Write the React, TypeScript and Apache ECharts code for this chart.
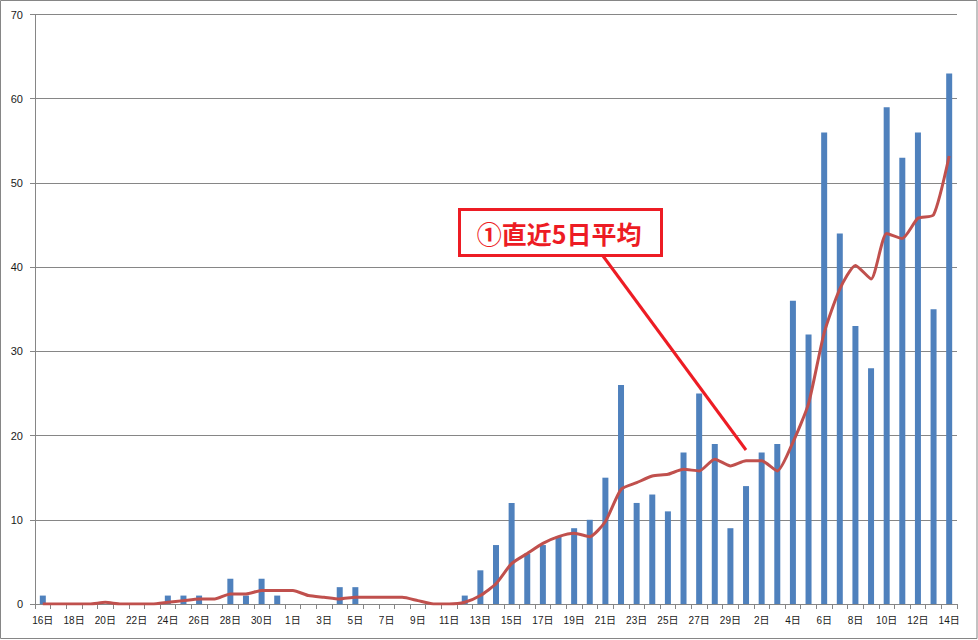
import React, { useEffect, useRef } from "react";
import * as echarts from "echarts";

const categories: string[] = [
  "16日", "17日", "18日", "19日", "20日", "21日", "22日", "23日", "24日", "25日", "26日", "27日", "28日", "29日", "30日", "31日",
  "1日", "2日", "3日", "4日", "5日", "6日", "7日", "8日", "9日", "10日", "11日", "12日", "13日", "14日", "15日", "16日",
  "17日", "18日", "19日", "20日", "21日", "22日", "23日", "24日", "25日", "26日", "27日", "28日", "29日",
  "1日", "2日", "3日", "4日", "5日", "6日", "7日", "8日", "9日", "10日", "11日", "12日", "13日", "14日",
];

const dailyCounts: number[] = [
  1, 0, 0, 0, 0, 0, 0, 0, 1, 1, 1, 0, 3, 1, 3, 1,
  0, 0, 0, 2, 2, 0, 0, 0, 0, 0, 0, 1, 4, 7, 12, 6,
  7, 8, 9, 10, 15, 26, 12, 13, 11, 18, 25, 19, 9,
  14, 18, 19, 36, 32, 56, 44, 33, 28, 59, 53, 56, 35, 63,
];

const avg5: number[] = [
  0, 0, 0, 0, 0.2, 0, 0, 0, 0.2, 0.4, 0.6, 0.6, 1.2, 1.2, 1.6, 1.6,
  1.6, 1.0, 0.8, 0.6, 0.8, 0.8, 0.8, 0.8, 0.4, 0, 0, 0.2, 1.0, 2.4, 4.8, 6.0,
  7.2, 8.0, 8.4, 8.0, 9.8, 13.6, 14.4, 15.2, 15.4, 16.0, 15.8, 17.2, 16.4,
  17.0, 17.0, 15.8, 19.2, 23.8, 32.2, 37.4, 40.2, 38.6, 44.0, 43.4, 45.8, 46.2, 53.2,
];

const yTicks = { min: 0, max: 70, interval: 10 };
const annotationText = "①直近5日平均";

export default function App() {
  const ref = useRef<HTMLDivElement>(null);
  useEffect(() => {
    document.body.style.margin = "0";
    if (!ref.current) return;
    const chart = echarts.init(ref.current, null, { renderer: "svg" });
    const gray = "#868686";
    const red = "#ED1C24";
    chart.setOption({
      animation: false,
      backgroundColor: "#ffffff",
      grid: { left: 35, right: 21, top: 14.5, bottom: 36, containLabel: false },
      xAxis: {
        type: "category",
        data: categories,
        boundaryGap: true,
        axisLine: { lineStyle: { color: gray, width: 1 } },
        axisTick: { show: true, interval: 0, length: 5, lineStyle: { color: gray } },
        axisLabel: {
          interval: 1,
          color: "#1a1a1a",
          fontSize: 10,
          fontFamily: "Liberation Sans, Noto Sans CJK JP, sans-serif",
          margin: 11,
        },
        splitLine: { show: false },
      },
      yAxis: {
        type: "value",
        min: yTicks.min,
        max: yTicks.max,
        interval: yTicks.interval,
        axisLine: { show: true, lineStyle: { color: gray, width: 1 } },
        axisTick: { show: true, length: 5, lineStyle: { color: gray } },
        axisLabel: {
          color: "#1a1a1a",
          fontSize: 11,
          fontFamily: "Liberation Sans, sans-serif",
          margin: 12,
        },
        splitLine: { show: true, lineStyle: { color: gray, width: 1 } },
      },
      series: [
        {
          type: "bar",
          data: dailyCounts,
          barWidth: 6,
          itemStyle: { color: "#4F81BD" },
        },
        {
          type: "line",
          data: avg5,
          smooth: 0.2,
          showSymbol: false,
          symbol: "none",
          lineStyle: { color: "#C0504D", width: 3 },
        },
      ],
      graphic: [
        {
          type: "rect",
          shape: { x: 0.5, y: 0.5, width: 976.5, height: 638 },
          style: { fill: "none", stroke: gray, lineWidth: 1 },
          z: 100,
        },
        {
          type: "line",
          shape: { x1: 603, y1: 256, x2: 746, y2: 450 },
          style: { stroke: red, lineWidth: 3 },
          z: 100,
        },
        {
          type: "rect",
          shape: { x: 459.5, y: 209.5, width: 202, height: 46 },
          style: { fill: "#ffffff", stroke: red, lineWidth: 3 },
          z: 101,
        },
        {
          type: "text",
          x: 559,
          y: 233,
          style: {
            text: annotationText,
            fill: red,
            font: "bold 25px 'Noto Sans CJK JP', sans-serif",
            align: "center",
            verticalAlign: "middle",
          },
          z: 102,
        },
      ],
    });
    return () => chart.dispose();
  }, []);
  return <div ref={ref} style={{ width: 978, height: 640 }} />;
}
